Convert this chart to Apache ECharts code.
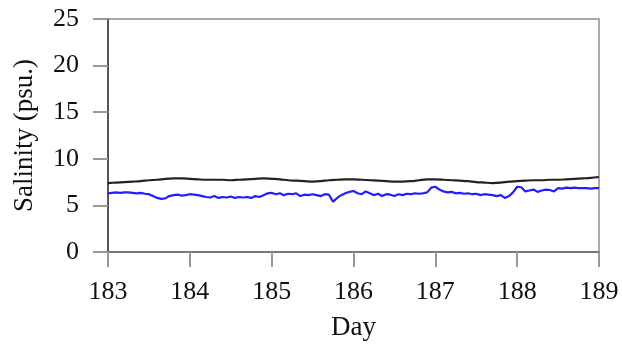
<!DOCTYPE html>
<html><head><meta charset="utf-8">
<script src="https://cdn.jsdelivr.net/npm/echarts@6/dist/echarts.min.js"></script>
<style>html,body{margin:0;padding:0;background:#fff}#c{width:622px;height:346px}</style>
</head><body><div id="c"></div>
<script>
const blackDays = [183.0,183.1,183.2,183.3,183.4,183.5,183.6,183.7,183.8,183.9,184.0,184.1,184.2,184.3,184.4,184.5,184.6,184.7,184.8,184.9,185.0,185.1,185.2,185.3,185.4,185.5,185.6,185.7,185.8,185.9,186.0,186.1,186.2,186.3,186.4,186.5,186.6,186.7,186.8,186.9,187.0,187.1,187.2,187.3,187.4,187.5,187.6,187.7,187.8,187.9,188.0,188.1,188.2,188.3,188.4,188.5,188.6,188.7,188.8,188.9,189.0];
const blackValues = [7.4,7.45,7.5,7.55,7.6,7.7,7.75,7.85,7.9,7.9,
  7.85,7.8,7.75,7.75,7.75,7.7,7.75,7.8,7.85,7.9,
  7.85,7.8,7.7,7.65,7.6,7.55,7.6,7.7,7.75,7.8,
  7.8,7.75,7.7,7.65,7.6,7.55,7.55,7.6,7.7,7.8,
  7.8,7.75,7.7,7.65,7.6,7.5,7.45,7.4,7.45,7.55,
  7.6,7.65,7.7,7.7,7.75,7.75,7.8,7.85,7.9,7.95,8.05];
const blueDays = [183.00,183.05,183.10,183.15,183.20,183.25,183.30,183.35,183.40,183.45,183.50,183.55,183.60,183.65,183.70,183.75,183.80,183.85,183.90,183.95,
  184.00,184.05,184.10,184.15,184.20,184.25,184.30,184.35,184.40,184.45,184.50,184.55,184.60,184.65,184.70,184.75,184.80,184.85,184.90,184.95,
  185.00,185.05,185.10,185.15,185.20,185.25,185.30,185.35,185.40,185.45,185.50,185.55,185.60,185.65,185.70,185.75,185.80,185.85,185.90,185.95,
  186.00,186.05,186.10,186.15,186.20,186.25,186.30,186.35,186.40,186.45,186.50,186.55,186.60,186.65,186.70,186.75,186.80,186.85,186.90,186.95,
  187.00,187.05,187.10,187.15,187.20,187.25,187.30,187.35,187.40,187.45,187.50,187.55,187.60,187.65,187.70,187.75,187.80,187.85,187.90,187.95,
  188.00,188.05,188.10,188.15,188.20,188.25,188.30,188.35,188.40,188.45,188.50,188.55,188.60,188.65,188.70,188.75,188.80,188.85,188.90,188.95,189.00];
const blueValues = [6.3,6.35,6.4,6.35,6.4,6.4,6.35,6.3,6.35,6.25,
  6.2,6.0,5.8,5.7,5.75,6.0,6.1,6.15,6.05,6.1,
  6.2,6.15,6.1,6.0,5.9,5.85,6.0,5.8,5.9,5.85,
  5.95,5.8,5.9,5.85,5.9,5.8,6.0,5.9,6.1,6.3,
  6.35,6.2,6.3,6.1,6.25,6.2,6.3,6.0,6.15,6.1,
  6.2,6.1,6.0,6.2,6.15,5.4,5.8,6.1,6.3,6.45,
  6.55,6.3,6.2,6.5,6.3,6.1,6.25,6.0,6.2,6.15,
  6.0,6.2,6.1,6.25,6.2,6.3,6.25,6.3,6.4,6.9,
  7.0,6.7,6.5,6.4,6.45,6.3,6.35,6.25,6.3,6.2,
  6.25,6.1,6.2,6.15,6.1,6.0,6.1,5.8,6.0,6.4,
  7.0,6.95,6.5,6.6,6.7,6.45,6.6,6.7,6.65,6.5,
  6.85,6.8,6.9,6.85,6.9,6.85,6.85,6.85,6.8,6.85,6.85];
const xLabel = 'Day';
const yLabel = 'Salinity (psu.)';

const font = "Liberation Serif";
const chart = echarts.init(document.getElementById('c'), null, {renderer:'canvas'});
chart.setOption({
  animation:false,
  grid:{left:108,right:23,top:19,bottom:87,show:true,borderColor:'#aaa',borderWidth:2},
  xAxis:{type:'value',min:183,max:189,interval:1,
    name:xLabel,nameLocation:'middle',nameGap:62,
    nameTextStyle:{fontFamily:font,fontSize:27,color:'#111'},
    axisLine:{lineStyle:{color:'#777',width:2}},
    axisTick:{length:15,lineStyle:{color:'#999',width:2}},
    axisLabel:{fontFamily:font,fontSize:26,color:'#111',margin:27},
    splitLine:{show:false}},
  yAxis:{type:'value',min:0,max:25,interval:5,
    name:yLabel,nameLocation:'middle',nameGap:70,
    nameTextStyle:{fontFamily:font,fontSize:27,color:'#111'},
    axisLine:{show:true,lineStyle:{color:'#555',width:2}},
    axisTick:{show:true,length:15,lineStyle:{color:'#999',width:2}},
    axisLabel:{fontFamily:font,fontSize:26,color:'#111',margin:29},
    splitLine:{show:false}},
  series:[
    {type:'line',data:blackDays.map((d,i)=>[d,blackValues[i]]),showSymbol:false,smooth:0.3,
     lineStyle:{color:'#222',width:2.2}},
    {type:'line',data:blueDays.map((d,i)=>[d,blueValues[i]]),showSymbol:false,
     lineStyle:{color:'#1f1fff',width:2.2}}
  ]
});
</script></body></html>
